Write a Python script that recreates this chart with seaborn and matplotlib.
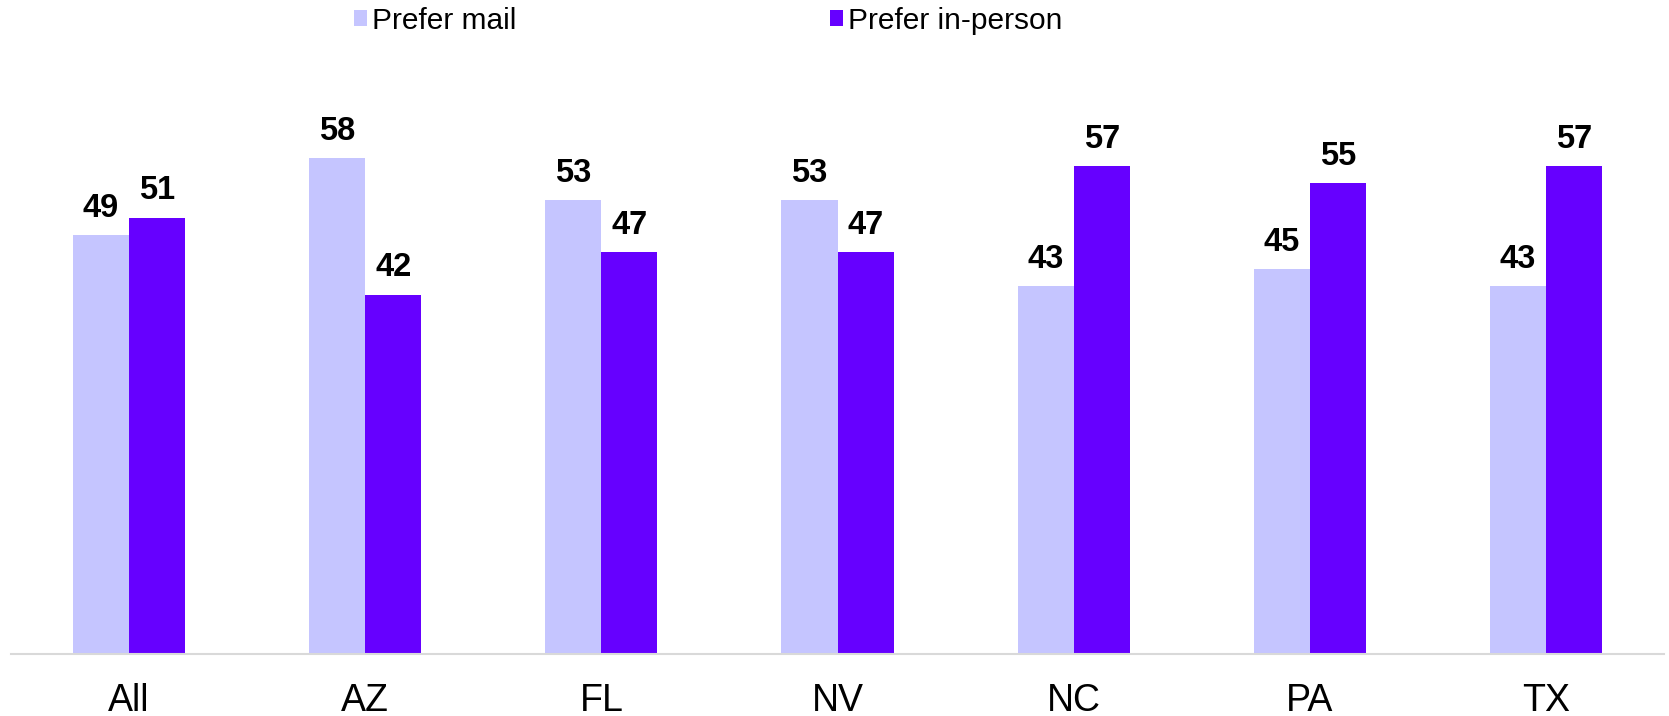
import pandas as pd
import matplotlib.pyplot as plt
import seaborn as sns
from matplotlib.patches import Patch

# Data
states = ["All", "AZ", "FL", "NV", "NC", "PA", "TX"]
prefer_mail = [49, 58, 53, 53, 43, 45, 43]
prefer_in_person = [51, 42, 47, 47, 57, 55, 57]
series = ["Prefer mail", "Prefer in-person"]
colors = ["#C5C5FF", "#6600FF"]

df = pd.DataFrame({
    "State": states * 2,
    "Value": prefer_mail + prefer_in_person,
    "Series": [series[0]] * len(states) + [series[1]] * len(states),
})

sns.set_style("white")
plt.rcParams['font.family'] = ['Liberation Sans', 'DejaVu Sans']

fig = plt.figure(figsize=(16.69, 7.16), dpi=100)
ax = fig.add_axes([11 / 1669, 62 / 716, 1653 / 1669, 599 / 716])

sns.barplot(data=df, x="State", y="Value", hue="Series", palette=colors,
            width=0.475, gap=0, saturation=1, linewidth=0, legend=False, ax=ax)

for container in ax.containers:
    ax.bar_label(container, fmt="%d", padding=8, fontsize=23.5,
                 fontweight="bold", color="black")

ax.set_ylim(0, 70)
ax.set_xlim(-0.5, len(states) - 0.5)
ax.set_xlabel("")
ax.set_ylabel("")
ax.set_yticks([])
ax.tick_params(axis="x", labelsize=27, labelcolor="black", length=0, pad=21)
for side in ["top", "right", "left"]:
    ax.spines[side].set_visible(False)
ax.spines["bottom"].set_color("#D9D9D9")
ax.spines["bottom"].set_linewidth(1.5)

# Legend
handles = [Patch(facecolor=c, edgecolor="none") for c in colors]
leg = fig.legend(handles, series, loc="upper left", bbox_to_anchor=(327 / 1669, 1.028),
                 ncol=2, frameon=False, fontsize=21.5, handlelength=0.43, handleheight=0.43,
                 handletextpad=0.17, columnspacing=10.5)
for t in leg.get_texts():
    t.set_color("black")

fig.savefig("out.png", dpi=100)
